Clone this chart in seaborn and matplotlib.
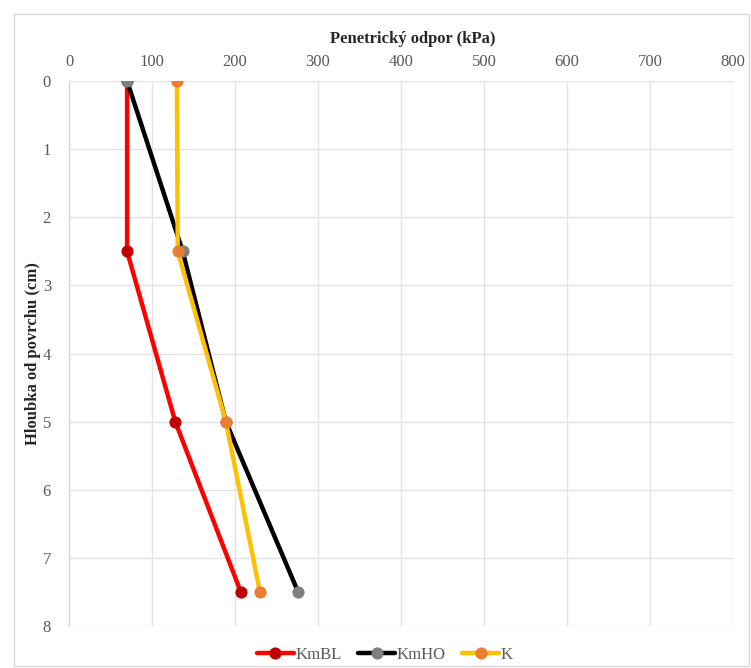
import matplotlib
matplotlib.use("Agg")
import matplotlib.pyplot as plt
import seaborn as sns
import pandas as pd
from matplotlib.patches import Rectangle

depth = [0, 2.5, 5, 7.5]
series_names = ["KmBL", "KmHO", "K"]
kmbl = [70, 70, 128, 207]
kmho = [70, 137, 189, 276]
k_vals = [130, 131, 189, 230]
x_ticks = [0, 100, 200, 300, 400, 500, 600, 700, 800]
y_ticks = [0, 1, 2, 3, 4, 5, 6, 7, 8]

line_colors = {"KmBL": "#ff0000", "KmHO": "#000000", "K": "#ffc000"}
marker_colors = {"KmBL": "#c00000", "KmHO": "#7f7f7f", "K": "#ed7d31"}

df = pd.concat([
    pd.DataFrame({"series": n, "depth": depth, "value": v})
    for n, v in zip(series_names, [kmbl, kmho, k_vals])
])

sns.set_theme(style="white")
plt.rcParams["font.family"] = ["Liberation Serif", "DejaVu Serif"]

fig = plt.figure(figsize=(7.51, 6.68), dpi=100)
ax = fig.add_axes([69/751, 1-626/668, (733-69)/751, (626-81)/668])

for n in series_names:
    sub = df[df["series"] == n]
    sns.lineplot(data=sub, x="value", y="depth", sort=False, orient="y", ax=ax,
                 color=line_colors[n], linewidth=3.2, marker="o", markersize=8,
                 markerfacecolor=marker_colors[n], markeredgecolor=marker_colors[n],
                 label=n, zorder=3)

ax.set_xlim(0, 800)
ax.set_ylim(8, 0)
ax.set_xticks(x_ticks)
ax.set_yticks(y_ticks)
ax.xaxis.tick_top()
ax.xaxis.set_label_position("top")
ax.tick_params(axis="both", colors="#595959", labelsize=12, length=0, pad=8)
ax.tick_params(axis="y", length=6, color="#d9d9d9", pad=7)
ax.grid(True, color="#e3e3e3", linewidth=1.0)
for s in ["top", "right", "bottom"]:
    ax.spines[s].set_visible(False)
ax.spines["left"].set_color("#d9d9d9")
ax.spines["left"].set_linewidth(1.0)

ax.set_xlabel("Penetrický odpor (kPa)", fontsize=12, fontweight="semibold", color="#262626")
ax.xaxis.set_label_coords(0.518, (81-43)/545 + 1.0)
ax.set_ylabel("Hloubka od povrchu (cm)", fontsize=12, fontweight="semibold", color="#262626")
ax.yaxis.set_label_coords((41-69)/664, 0.5)

leg = ax.legend(loc="center", bbox_to_anchor=(385/751, 1-655/668), bbox_transform=fig.transFigure,
                ncol=3, frameon=False, fontsize=12, handlelength=2.2, columnspacing=1.0,
                handletextpad=0.1)
for t in leg.get_texts():
    t.set_color("#595959")

fig.patches.append(Rectangle((14/751, 1-666/668), (749-14)/751, (666-14)/668,
                             transform=fig.transFigure, fill=False, edgecolor="#d9d9d9",
                             linewidth=1.0))

fig.savefig("out.png", dpi=100)
